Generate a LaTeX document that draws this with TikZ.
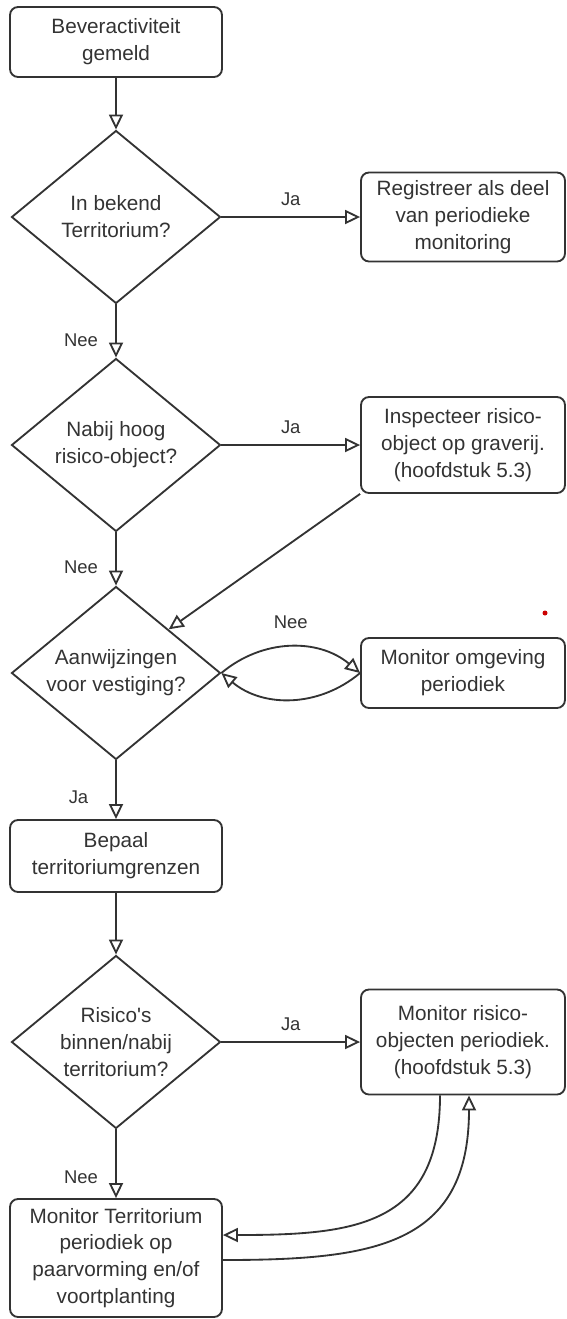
\documentclass[tikz,border=0pt]{standalone}
\usepackage{fontspec}
\setmainfont{Liberation Sans}[Ligatures=TeXOff]
\usetikzlibrary{shapes.geometric, arrows.meta}

\begin{document}
\begin{tikzpicture}[x=0.02cm, y=-0.02cm,
  font=\fontsize{11.8}{15.3}\selectfont, text=black!80,
  blok/.style={draw=black!80, line width=1.05pt, rounded corners=0.16cm, align=center, inner sep=0pt},
  ruit/.style={draw=black!80, line width=1.05pt, diamond, aspect=1.21, minimum width=4.18cm, minimum height=3.46cm, align=center, inner sep=0pt},
  pijl/.style={draw=black!80, line width=1.05pt, -{Triangle[open, length=0.3cm, width=0.28cm]}},
  tekst/.style={font=\fontsize{10.5}{12}\selectfont, inner sep=1pt}]
  % 画布范围
  \useasboundingbox (0,0) rectangle (566,1319);

  % 定义节点
  \node[blok, minimum width=4.24cm, minimum height=1.4cm] (start) at (116,42) {Beveractiviteit\\gemeld};
  \node[ruit] (terr) at (116,217) {In bekend\\Territorium?};
  \node[blok, minimum width=4.08cm, minimum height=1.78cm] (regis) at (463,217) {Registreer als deel\\van periodieke\\monitoring};
  \node[ruit] (risico) at (116,445) {Nabij hoog\\risico-object?};
  \node[blok, minimum width=4.08cm, minimum height=1.92cm] (inspect) at (463,445) {Inspecteer risico-\\object op graverij.\\(hoofdstuk 5.3)};
  \node[ruit] (vestig) at (116,673) {Aanwijzingen\\voor vestiging?};
  \node[blok, minimum width=4.08cm, minimum height=1.4cm] (omgev) at (463,673) {Monitor omgeving\\periodiek};
  \node[blok, minimum width=4.24cm, minimum height=1.44cm] (grens) at (116,856) {Bepaal\\territoriumgrenzen};
  \node[ruit] (binnen) at (116,1042) {Risico's\\binnen/nabij\\territorium?};
  \node[blok, minimum width=4.08cm, minimum height=2.1cm] (monris) at (463,1042) {Monitor risico-\\objecten periodiek.\\(hoofdstuk 5.3)};
  \node[blok, minimum width=4.24cm, minimum height=2.36cm] (monterr) at (116,1258) {Monitor Territorium\\periodiek op\\paarvorming en/of\\voortplanting};

  % 绘制箭头
  \draw[pijl] (start) -- (terr);
  \draw[pijl] (terr) -- node[tekst, midway, yshift=0.35cm] {Ja} (regis);
  \draw[pijl] (terr) -- node[tekst, pos=0.67, xshift=-0.7cm] {Nee} (risico);
  \draw[pijl] (risico) -- node[tekst, midway, yshift=0.35cm] {Ja} (inspect);
  \draw[pijl] (risico) -- node[tekst, pos=0.65, xshift=-0.7cm] {Nee} (vestig);
  \draw[pijl] (inspect.south west) -- (vestig.north east);
  \draw[pijl] (vestig.east) to[bend left=40] node[tekst, midway, yshift=0.5cm] {Nee} (omgev.west);
  \draw[pijl] (omgev.west) to[bend left=40] (vestig.east);
  \draw[pijl] (vestig) -- node[tekst, pos=0.62, xshift=-0.75cm] {Ja} (grens);
  \draw[pijl] (grens) -- (binnen);
  \draw[pijl] (binnen) -- node[tekst, midway, yshift=0.35cm] {Ja} (monris);
  \draw[pijl] (binnen) -- node[tekst, pos=0.69, xshift=-0.7cm] {Nee} (monterr);

  % 底部两条曲线
  \draw[pijl] ([xshift=-0.46cm]monris.south) to[out=-90, in=0, looseness=1.3] ([yshift=0.46cm]monterr.east);
  \draw[pijl] ([yshift=-0.04cm]monterr.east) to[out=0, in=-90, looseness=1.3] ([xshift=0.12cm]monris.south);

  \fill[red!80!black] (545,613) circle (0.05cm);
\end{tikzpicture}
\end{document}
